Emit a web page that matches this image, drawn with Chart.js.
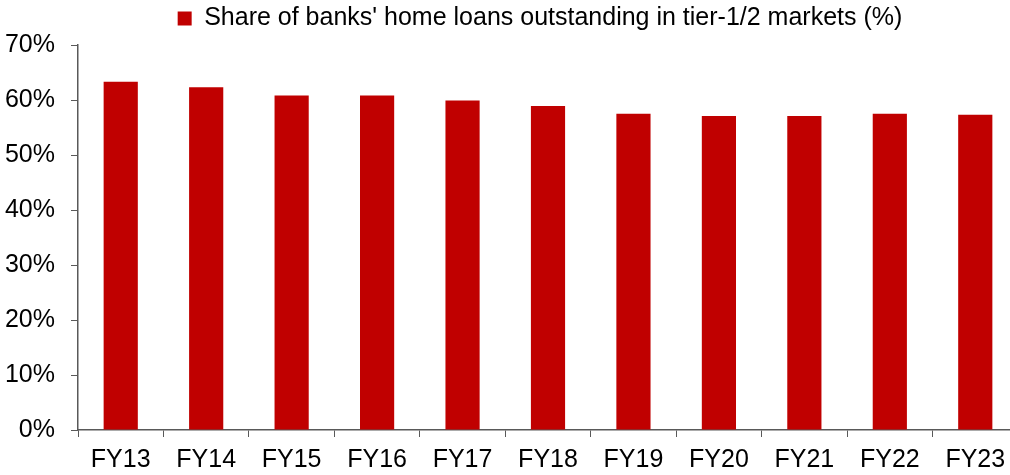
<!DOCTYPE html>
<html>
<head>
<meta charset="utf-8">
<script src="https://cdn.jsdelivr.net/npm/chart.js@4"></script>
<style>
  html, body { margin: 0; padding: 0; background: #fff; overflow: hidden; }
  #wrap { width: 1018px; height: 475px; }
</style>
</head>
<body>
<div id="wrap"><canvas id="barChart" width="1018" height="475"></canvas></div>
<script>
// Chart data
const years = ["FY13", "FY14", "FY15", "FY16", "FY17", "FY18", "FY19", "FY20", "FY21", "FY22", "FY23"];
const tierShare = [63.3, 62.3, 60.8, 60.8, 59.9, 58.9, 57.5, 57.1, 57.1, 57.5, 57.3];
const seriesLabel = "Share of banks' home loans outstanding in tier-1/2 markets (%)";
const yTicks = [0, 10, 20, 30, 40, 50, 60, 70];

const fontFamily = "'Liberation Sans', Arial, sans-serif";
const axisColor = "#595959";

// extra room under the legend, and centre it over the plot area
const legendSpacing = {
  id: "legendSpacing",
  beforeInit(chart) {
    const origFit = chart.legend.fit;
    chart.legend.fit = function () {
      origFit.bind(chart.legend)();
      this.height += 4;
    };
  },
  afterLayout(chart) {
    chart.legend.left = 62;
  },
};

const ctx = document.getElementById("barChart").getContext("2d");
new Chart(ctx, {
  type: "bar",
  data: {
    labels: years,
    datasets: [
      {
        label: seriesLabel,
        data: tierShare,
        backgroundColor: "#C00000",
        barPercentage: 0.8,
        categoryPercentage: 0.5,
      },
    ],
  },
  plugins: [legendSpacing],
  options: {
    responsive: false,
    animation: false,
    layout: { padding: 0 },
    plugins: {
      tooltip: { enabled: false },
      legend: {
        display: true,
        position: "top",
        labels: {
          color: "#000",
          boxWidth: 14,
          boxHeight: 14,
          padding: 6,
          font: { family: fontFamily, size: 25 },
        },
      },
    },
    scales: {
      x: {
        afterFit: (scale) => { scale.height = 45; },
        grid: {
          display: true,
          offset: true,
          drawOnChartArea: false,
          drawTicks: true,
          tickLength: 7,
          color: axisColor,
        },
        border: { display: true, color: axisColor, width: 1.5 },
        ticks: {
          color: "#000",
          padding: 8,
          font: { family: fontFamily, size: 25 },
        },
      },
      y: {
        min: 0,
        max: 70,
        afterFit: (scale) => { scale.width = 78; },
        afterBuildTicks: (scale) => {
          scale.ticks = yTicks.map((v) => ({ value: v }));
        },
        grid: {
          display: true,
          drawOnChartArea: false,
          drawTicks: true,
          tickLength: 7,
          color: axisColor,
        },
        border: { display: true, color: axisColor, width: 1.5 },
        ticks: {
          color: "#000",
          padding: 16,
          font: { family: fontFamily, size: 25 },
          callback: (v) => v + "%",
        },
      },
    },
  },
});
</script>
</body>
</html>
